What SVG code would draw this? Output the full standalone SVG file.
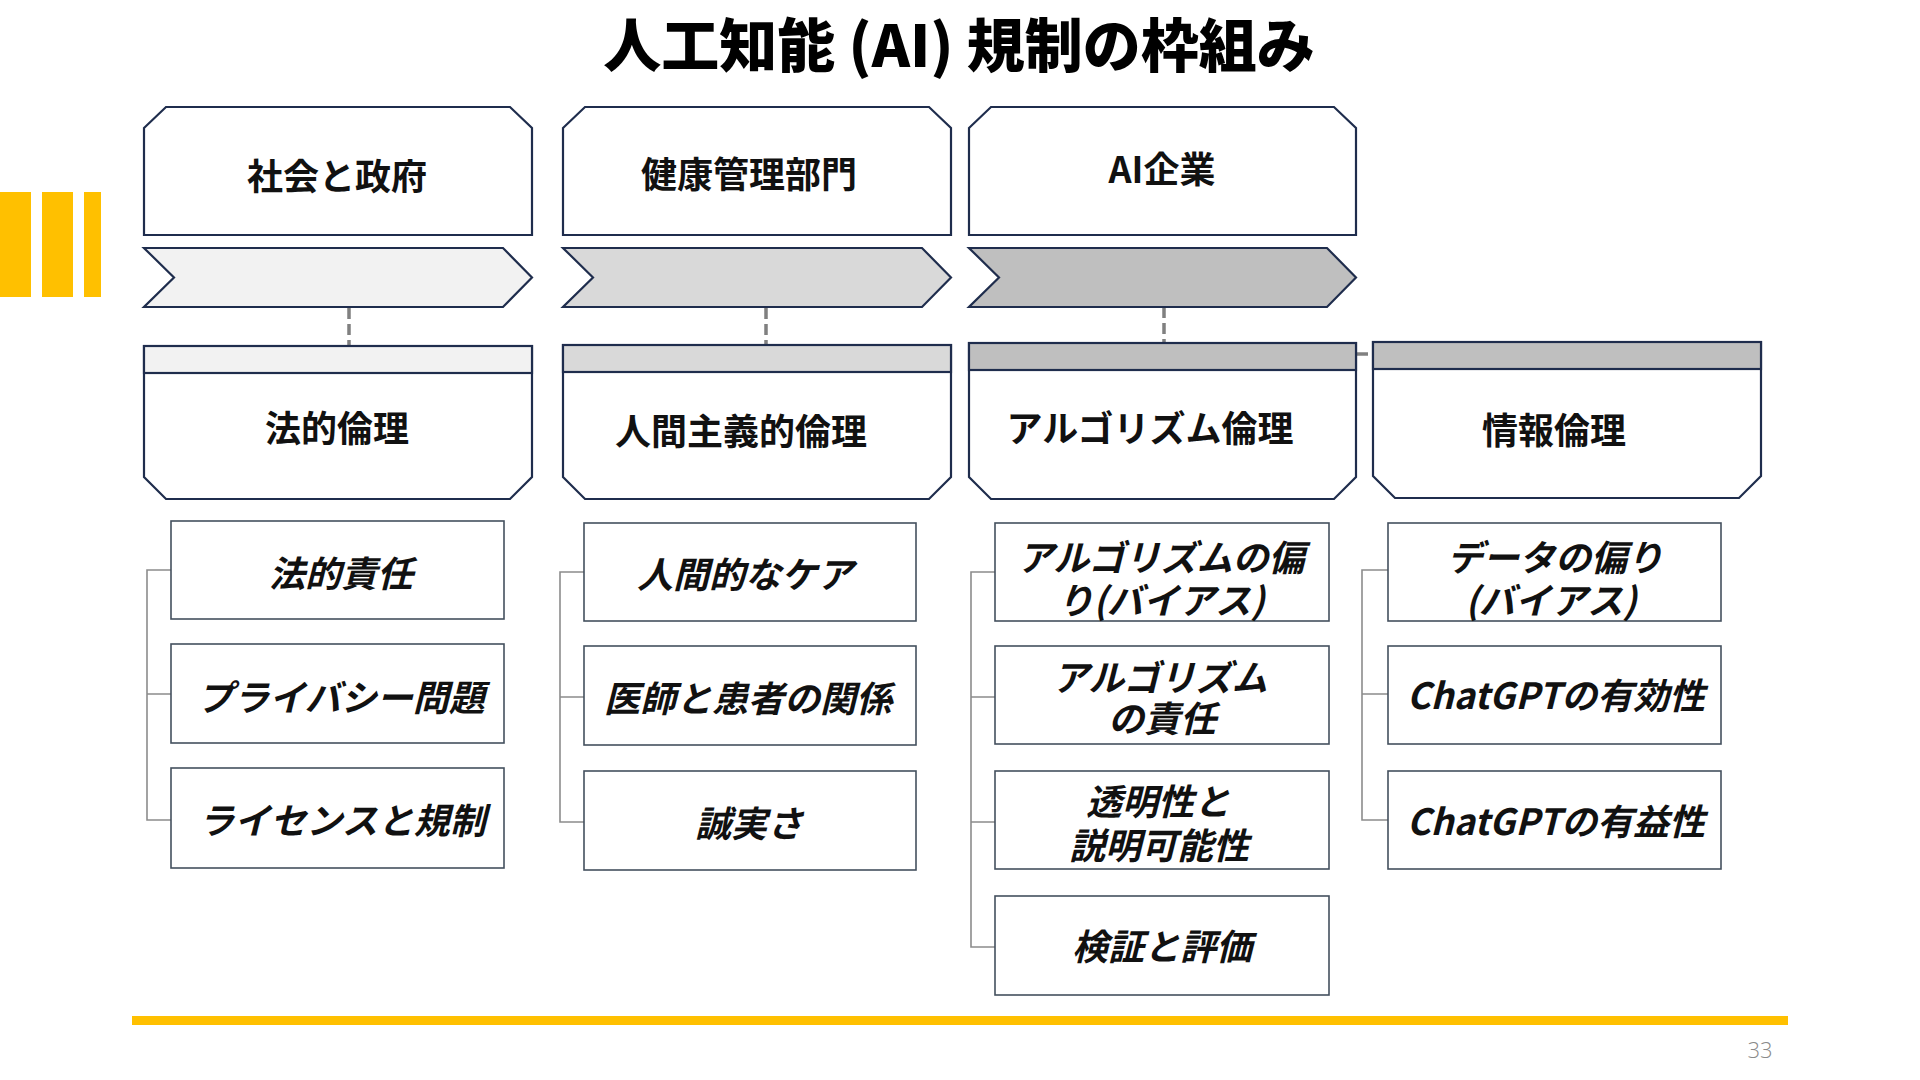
<svg xmlns="http://www.w3.org/2000/svg" width="1920" height="1080" viewBox="0 0 1920 1080">
<style>
  .frame { fill: #ffffff; stroke: #1f2d4d; stroke-width: 2.2; stroke-linejoin: miter; }
  .band { stroke: #1f2d4d; stroke-width: 2.2; }
  .chev { stroke: #1f2d4d; stroke-width: 2.2; stroke-linejoin: miter; }
  .l1 { fill: #f2f2f2; }
  .l2 { fill: #d9d9d9; }
  .l3 { fill: #bfbfbf; }
  .item { fill: #ffffff; stroke: #44505e; stroke-width: 1.6; }
  .dash { fill: none; stroke: #808080; stroke-width: 3.5; stroke-dasharray: 11 5; }
  .tree { fill: none; stroke: #8c8c8c; stroke-width: 1.6; }
  .hd { font-family: "Noto Sans CJK JP", "Noto Sans", sans-serif; font-size: 36px; font-weight: 700; fill: #111111; text-anchor: middle; }
  .it { font-family: "Noto Sans CJK JP", "Noto Sans", sans-serif; font-size: 36px; font-weight: 700; font-style: italic; fill: #111111; text-anchor: middle; }
  .title { font-family: "Noto Sans CJK JP", "Noto Sans", sans-serif; font-size: 58px; font-weight: 900; fill: #000000; text-anchor: middle; }
  .yel { fill: #ffc000; }
</style>

<!-- decorations -->
<rect class="yel" x="0" y="192" width="31" height="105"/>
<rect class="yel" x="42" y="192" width="31" height="105"/>
<rect class="yel" x="84" y="192" width="17" height="105"/>
<rect class="yel" x="132" y="1016" width="1656" height="9"/>
<text x="1760" y="1058" font-family="Open Sans, Noto Sans, sans-serif" font-size="22" font-weight="300" fill="#8a8a8a" text-anchor="middle">33</text>

<text class="title" x="959" y="67">人工知能 (AI) 規制の枠組み</text>

<!-- connectors -->
<g id="connectors">
  <line class="dash" x1="349" y1="308" x2="349" y2="345"/>
  <line class="dash" x1="766" y1="308" x2="766" y2="344"/>
  <line class="dash" x1="1164" y1="307" x2="1164" y2="342"/>
  <line class="dash" x1="1357" y1="354" x2="1373" y2="354"/>
  <path class="tree" d="M171,570 H147 V820 H171 M147,694 H171"/>
  <path class="tree" d="M584,572 H560 V822 H584 M560,697 H584"/>
  <path class="tree" d="M995,572 H971 V947 H995 M971,697 H995 M971,822 H995"/>
  <path class="tree" d="M1388,570 H1362 V820 H1388 M1362,694 H1388"/>
</g>

<!-- top stakeholder boxes -->
<g id="node-society">
  <path class="frame" d="M144,128 L166,107 H510 L532,128 V235 H144 Z"/>
  <text class="hd" x="337" y="190">社会と政府</text>
</g>
<g id="node-health">
  <path class="frame" d="M563,128 L585,107 H929 L951,128 V235 H563 Z"/>
  <text class="hd" x="749" y="188">健康管理部門</text>
</g>
<g id="node-aicorp">
  <path class="frame" d="M969,128 L991,107 H1334 L1356,128 V235 H969 Z"/>
  <text class="hd" x="1162" y="183">AI企業</text>
</g>

<!-- chevrons -->
<g id="chevron-1"><path class="chev l1" d="M144,248 H503 L532,277.5 L503,307 H144 L174,277.5 Z"/></g>
<g id="chevron-2"><path class="chev l2" d="M563,248 H922 L951,277.5 L922,307 H563 L593,277.5 Z"/></g>
<g id="chevron-3"><path class="chev l3" d="M969,248 H1327 L1356,277.5 L1327,307 H969 L999,277.5 Z"/></g>

<!-- ethics boxes -->
<g id="node-legal">
  <path class="frame" d="M144,346 H532 V477 L510,499 H166 L144,477 Z"/>
  <rect class="band l1" x="144" y="346" width="388" height="27"/>
  <text class="hd" x="337" y="442">法的倫理</text>
</g>
<g id="node-humanist">
  <path class="frame" d="M563,345 H951 V477 L929,499 H585 L563,477 Z"/>
  <rect class="band l2" x="563" y="345" width="388" height="27"/>
  <text class="hd" x="741" y="445">人間主義的倫理</text>
</g>
<g id="node-algo">
  <path class="frame" d="M969,343 H1356 V477 L1334,499 H991 L969,477 Z"/>
  <rect class="band l3" x="969" y="343" width="387" height="27"/>
  <text class="hd" x="1150" y="442">アルゴリズム倫理</text>
</g>
<g id="node-info">
  <path class="frame" d="M1373,342 H1761 V476 L1739,498 H1395 L1373,476 Z"/>
  <rect class="band l3" x="1373" y="342" width="388" height="27"/>
  <text class="hd" x="1554" y="444">情報倫理</text>
</g>

<!-- column 1 items -->
<g id="item-legal-responsibility">
  <rect class="item" x="171" y="521" width="333" height="98"/>
  <text class="it" x="341" y="587">法的責任</text>
</g>
<g id="item-privacy">
  <rect class="item" x="171" y="644" width="333" height="99"/>
  <text class="it" x="341" y="711">プライバシー問題</text>
</g>
<g id="item-license">
  <rect class="item" x="171" y="768" width="333" height="100"/>
  <text class="it" x="342" y="834">ライセンスと規制</text>
</g>

<!-- column 2 items -->
<g id="item-human-care">
  <rect class="item" x="584" y="523" width="332" height="98"/>
  <text class="it" x="745" y="588">人間的なケア</text>
</g>
<g id="item-doctor-patient">
  <rect class="item" x="584" y="646" width="332" height="99"/>
  <text class="it" x="748" y="712">医師と患者の関係</text>
</g>
<g id="item-integrity">
  <rect class="item" x="584" y="771" width="332" height="99"/>
  <text class="it" x="749" y="837">誠実さ</text>
</g>

<!-- column 3 items -->
<g id="item-algo-bias">
  <rect class="item" x="995" y="523" width="334" height="98"/>
  <text class="it"><tspan x="1161" y="571">アルゴリズムの偏</tspan><tspan x="1161" y="614">り(バイアス)</tspan></text>
</g>
<g id="item-algo-responsibility">
  <rect class="item" x="995" y="646" width="334" height="98"/>
  <text class="it"><tspan x="1160" y="691">アルゴリズム</tspan><tspan x="1162" y="732">の責任</tspan></text>
</g>
<g id="item-transparency">
  <rect class="item" x="995" y="771" width="334" height="98"/>
  <text class="it"><tspan x="1158" y="815">透明性と</tspan><tspan x="1159" y="859">説明可能性</tspan></text>
</g>
<g id="item-verification">
  <rect class="item" x="995" y="896" width="334" height="99"/>
  <text class="it" x="1162" y="960">検証と評価</text>
</g>

<!-- column 4 items -->
<g id="item-data-bias">
  <rect class="item" x="1388" y="523" width="333" height="98"/>
  <text class="it"><tspan x="1555" y="571">データの偏り</tspan><tspan x="1551" y="614">(バイアス)</tspan></text>
</g>
<g id="item-chatgpt-effectiveness">
  <rect class="item" x="1388" y="646" width="333" height="98"/>
  <text class="it" x="1556" y="709">ChatGPTの有効性</text>
</g>
<g id="item-chatgpt-benefit">
  <rect class="item" x="1388" y="771" width="333" height="98"/>
  <text class="it" x="1556" y="835">ChatGPTの有益性</text>
</g>
</svg>
